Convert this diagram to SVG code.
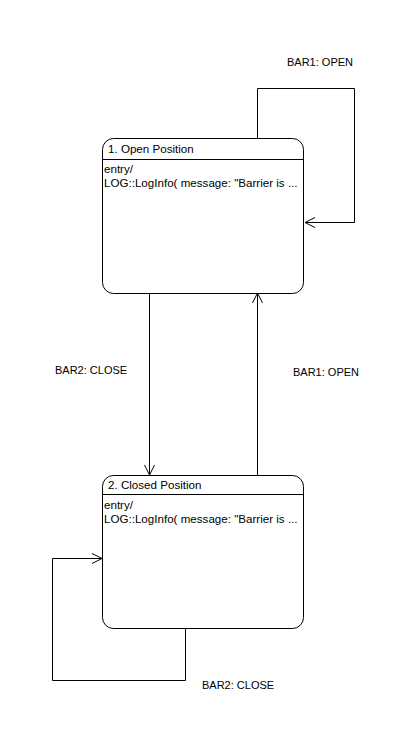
<svg xmlns="http://www.w3.org/2000/svg" width="415" height="745" viewBox="0 0 415 745">
<defs>
<style>
.st{fill:#fff;stroke:#000;stroke-width:1}
.ln{fill:none;stroke:#000;stroke-width:1}
text{font-family:"Liberation Sans",Arial,sans-serif;font-size:11px;fill:#000}
.bx{font-size:11.6px}
</style>
<marker id="ah" viewBox="0 0 12 12" refX="11" refY="6" markerWidth="12" markerHeight="12" markerUnits="userSpaceOnUse" orient="auto">
<path d="M1,1 L11,6 L1,11" fill="none" stroke="#000" stroke-width="1"/>
</marker>
</defs>
<rect width="415" height="745" fill="#fff"/>
<g id="connectors">
<path class="ln" d="M257.5,138 V88.5 H354.5 V222.5 H305" marker-end="url(#ah)"/>
<path class="ln" d="M149.5,293 V475" marker-end="url(#ah)"/>
<path class="ln" d="M257.5,475 V293" marker-end="url(#ah)"/>
<path class="ln" d="M185.5,629 V680.5 H52.5 V558.5 H102" marker-end="url(#ah)"/>
<text x="287" y="66">BAR1: OPEN</text>
<text x="55" y="374">BAR2: CLOSE</text>
<text x="293" y="376">BAR1: OPEN</text>
<text x="202" y="689">BAR2: CLOSE</text>
</g>
<g id="state1">
<rect class="st" x="102.5" y="138.5" width="201" height="155" rx="11" ry="11"/>
<line class="ln" x1="102.5" y1="159.5" x2="303.5" y2="159.5"/>
<text class="bx" x="108" y="153">1. Open Position</text>
<text class="bx" x="104" y="173">entry/</text>
<text class="bx" x="104" y="187">LOG::LogInfo( message: "Barrier is ...</text>
</g>
<g id="state2">
<rect class="st" x="102.5" y="475.5" width="201" height="153" rx="11" ry="11"/>
<line class="ln" x1="102.5" y1="494.5" x2="303.5" y2="494.5"/>
<text class="bx" x="108" y="489">2. Closed Position</text>
<text class="bx" x="104" y="509">entry/</text>
<text class="bx" x="104" y="523">LOG::LogInfo( message: "Barrier is ...</text>
</g>
</svg>
